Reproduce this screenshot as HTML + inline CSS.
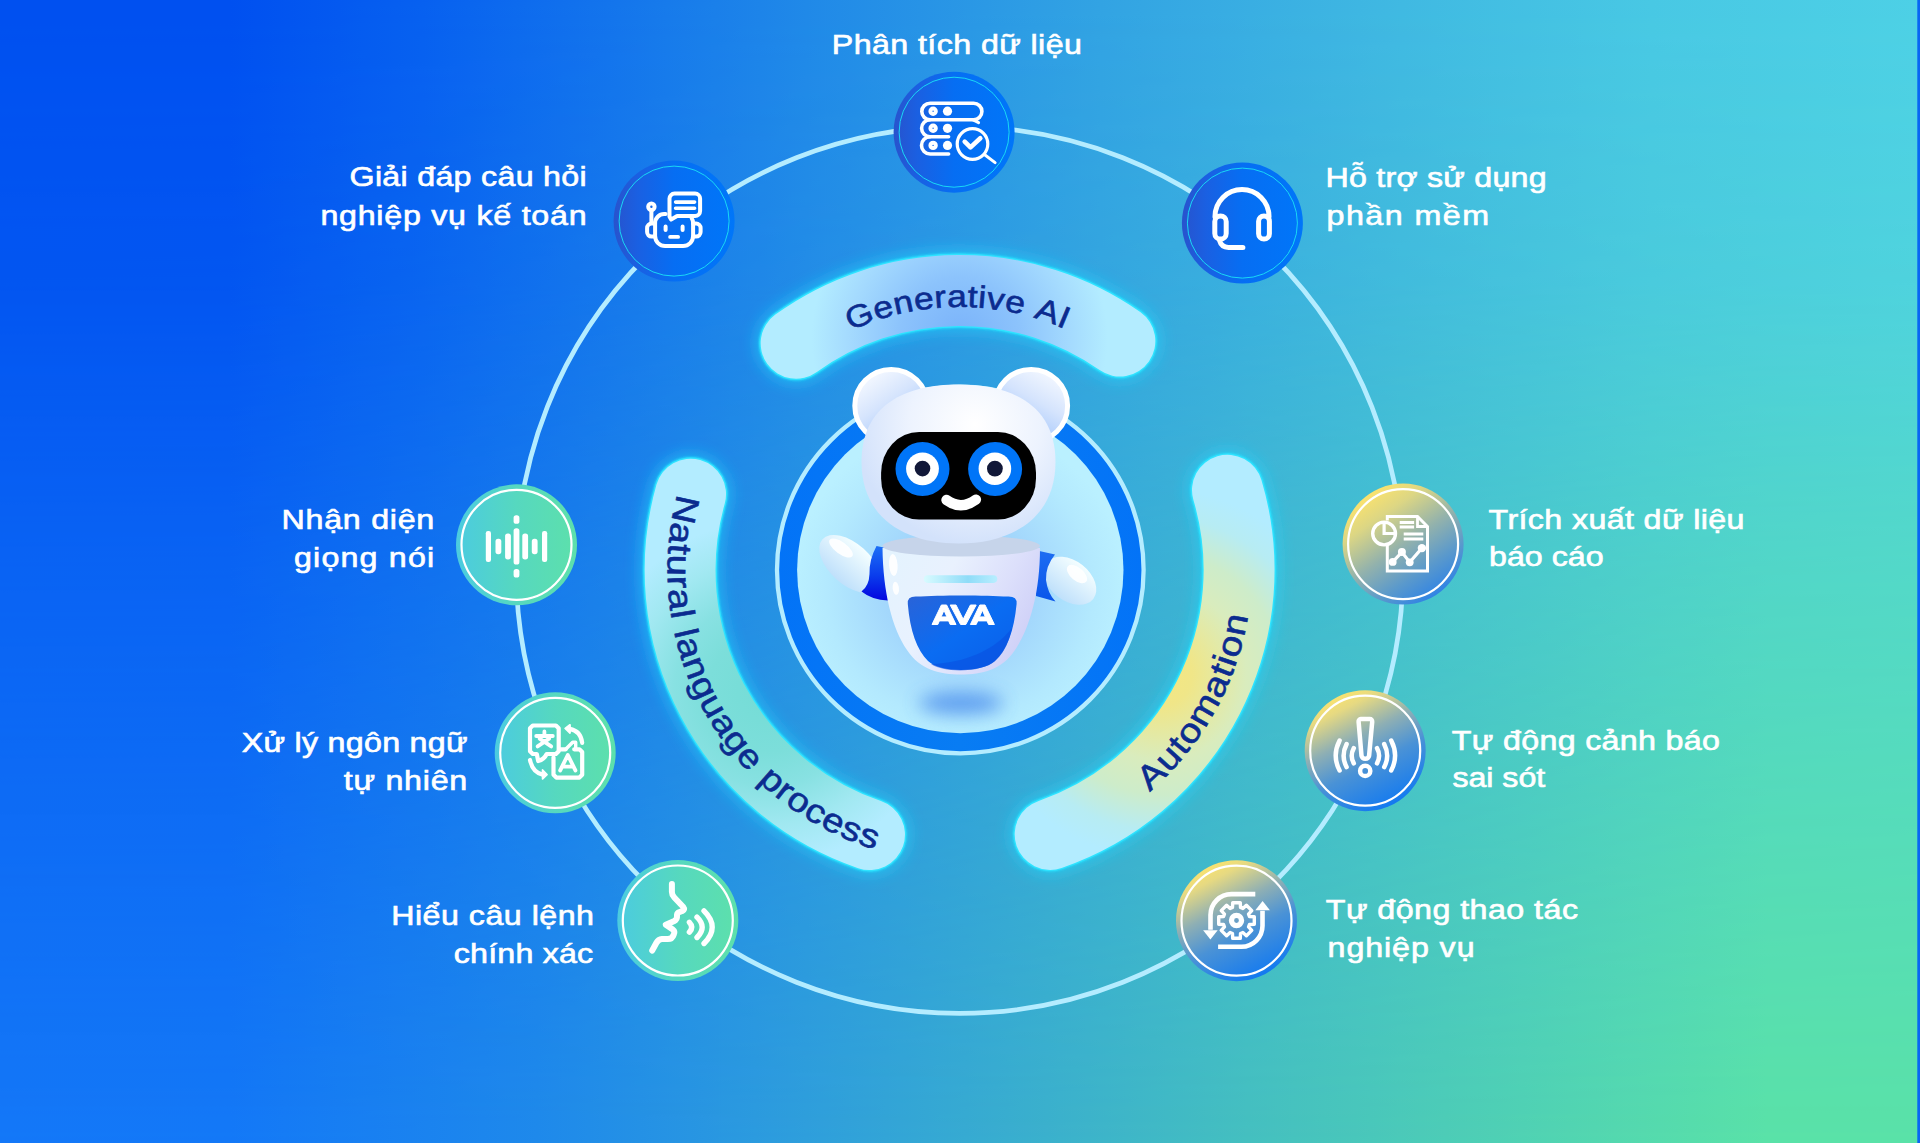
<!DOCTYPE html>
<html lang="vi">
<head>
<meta charset="utf-8">
<title>AVA</title>
<style>
html,body{margin:0;padding:0;background:#2b98e0;}
body{width:1920px;height:1143px;overflow:hidden;font-family:"Liberation Sans",sans-serif;}
svg{display:block;position:absolute;left:0;top:0;}
.lbl{font-family:"Liberation Sans",sans-serif;font-size:28px;fill:#fff;stroke:#fff;stroke-width:.65px;}
.arc{font-family:"Liberation Sans",sans-serif;fill:#0b2b8f;stroke:#0b2b8f;stroke-width:.6px;}
</style>
</head>
<body>
<svg width="1920" height="1143" viewBox="0 0 1920 1143">
<defs>
  <linearGradient id="bgTop" x1="0" y1="0" x2="1" y2="0">
    <stop offset="0" stop-color="#0050f0"/>
    <stop offset="0.12" stop-color="#0050f0"/>
    <stop offset="0.22" stop-color="#0760f0"/>
    <stop offset="0.42" stop-color="#2089e8"/>
    <stop offset="0.573" stop-color="#32a3e3"/>
    <stop offset="0.73" stop-color="#40b9e2"/>
    <stop offset="0.86" stop-color="#48c8e4"/>
    <stop offset="1" stop-color="#4dd0e6"/>
  </linearGradient>
  <linearGradient id="bgBot" x1="0" y1="0" x2="1" y2="0">
    <stop offset="0" stop-color="#1478f8"/>
    <stop offset="0.12" stop-color="#1479f7"/>
    <stop offset="0.28" stop-color="#1f8aeb"/>
    <stop offset="0.42" stop-color="#2f9fdc"/>
    <stop offset="0.65" stop-color="#45c0c0"/>
    <stop offset="0.92" stop-color="#5ae2a8"/>
    <stop offset="1" stop-color="#5ae2a8"/>
  </linearGradient>
  <linearGradient id="bgMaskG" x1="0" y1="0" x2="0" y2="1">
    <stop offset="0" stop-color="#fff"/>
    <stop offset="0.25" stop-color="#dbdbdb"/>
    <stop offset="0.5" stop-color="#858585"/>
    <stop offset="1" stop-color="#000"/>
  </linearGradient>
  <mask id="bgMask" maskUnits="userSpaceOnUse" x="0" y="0" width="1920" height="1143">
    <rect width="1920" height="1143" fill="url(#bgMaskG)"/>
  </mask>
  <linearGradient id="gBlue" x1="0" y1="0" x2="1" y2="0">
    <stop offset="0" stop-color="#2853cd"/>
    <stop offset="0.2" stop-color="#1a60e2"/>
    <stop offset="0.5" stop-color="#066ef3"/>
    <stop offset="1" stop-color="#0076f9"/>
  </linearGradient>
  <linearGradient id="gGreen" x1="0" y1="0" x2="1" y2="0">
    <stop offset="0" stop-color="#4bcbe0"/>
    <stop offset="0.5" stop-color="#56d8bf"/>
    <stop offset="1" stop-color="#5de0ab"/>
  </linearGradient>
  <linearGradient id="gYellow" x1="0.22" y1="0.04" x2="0.7" y2="0.99">
    <stop offset="0" stop-color="#ffe56a"/>
    <stop offset="0.14" stop-color="#e6d982"/>
    <stop offset="0.38" stop-color="#8eafb4"/>
    <stop offset="0.62" stop-color="#4a92d6"/>
    <stop offset="1" stop-color="#0f78f2"/>
  </linearGradient>
  <linearGradient id="gYellow7" x1="0.18" y1="0.08" x2="0.78" y2="0.96">
    <stop offset="0" stop-color="#ffe46a"/>
    <stop offset="0.22" stop-color="#dcd684"/>
    <stop offset="0.5" stop-color="#93b2ac"/>
    <stop offset="0.75" stop-color="#5a99cc"/>
    <stop offset="1" stop-color="#2a80e8"/>
  </linearGradient>
  <filter id="glow" filterUnits="userSpaceOnUse" x="500" y="150" width="920" height="850">
    <feGaussianBlur stdDeviation="7"/>
  </filter>
  <filter id="glow2" filterUnits="userSpaceOnUse" x="500" y="150" width="920" height="850">
    <feGaussianBlur stdDeviation="1.2"/>
  </filter>
  <radialGradient id="arcTop" gradientUnits="userSpaceOnUse" cx="959.6" cy="338" r="200">
    <stop offset="0" stop-color="#79b2fa"/>
    <stop offset="0.3" stop-color="#8cc3fc"/>
    <stop offset="0.55" stop-color="#a4dafe"/>
    <stop offset="0.74" stop-color="#b3ecff"/>
    <stop offset="1" stop-color="#b3ecff"/>
  </radialGradient>
  <radialGradient id="arcLeft" gradientUnits="userSpaceOnUse" cx="768" cy="692" r="200">
    <stop offset="0" stop-color="#74dcd6"/>
    <stop offset="0.3" stop-color="#7cdeda"/>
    <stop offset="0.47" stop-color="#88e1e2"/>
    <stop offset="0.67" stop-color="#a1e8f1"/>
    <stop offset="0.86" stop-color="#b3ecff"/>
    <stop offset="1" stop-color="#b3ecff"/>
  </radialGradient>
  <radialGradient id="arcRight" gradientUnits="userSpaceOnUse" cx="1160" cy="674" r="215">
    <stop offset="0" stop-color="#f5e780"/>
    <stop offset="0.15" stop-color="#f0e688"/>
    <stop offset="0.4" stop-color="#d9ecbd"/>
    <stop offset="0.56" stop-color="#cdecca"/>
    <stop offset="0.73" stop-color="#b7ecf3"/>
    <stop offset="0.86" stop-color="#b3ecff"/>
    <stop offset="1" stop-color="#b3ecff"/>
  </radialGradient>
</defs>
<rect width="1920" height="1143" fill="url(#bgBot)"/>
<rect width="1920" height="1143" fill="url(#bgTop)" mask="url(#bgMask)"/>
<rect x="1917.3" y="0" width="2.7" height="1143" fill="#0866f4"/>
<circle cx="959.6" cy="570.0" r="443.4" fill="none" stroke="#b4ecff" stroke-width="4.7"/>
<path d="M796.10,343.31 A279.5,279.5 0 0 1 1119.91,341.05" fill="none" stroke="#1fd8ff" stroke-opacity=".5" stroke-width="82.9" stroke-linecap="round" filter="url(#glow)"/>
<path d="M796.10,343.31 A279.5,279.5 0 0 1 1119.91,341.05" fill="none" stroke="#25e2ff" stroke-width="74.30000000000001" stroke-linecap="round" filter="url(#glow2)"/>
<path d="M796.10,343.31 A279.5,279.5 0 0 1 1119.91,341.05" fill="none" stroke="#2fe3ff" stroke-width="73.30000000000001" stroke-linecap="round"/>
<path d="M796.10,343.31 A279.5,279.5 0 0 1 1119.91,341.05" fill="none" stroke="url(#arcTop)" stroke-width="70.9" stroke-linecap="round"/>
<path d="M690.59,494.13 A279.5,279.5 0 0 0 869.53,834.59" fill="none" stroke="#1fd8ff" stroke-opacity=".5" stroke-width="82.9" stroke-linecap="round" filter="url(#glow)"/>
<path d="M690.59,494.13 A279.5,279.5 0 0 0 869.53,834.59" fill="none" stroke="#25e2ff" stroke-width="74.30000000000001" stroke-linecap="round" filter="url(#glow2)"/>
<path d="M690.59,494.13 A279.5,279.5 0 0 0 869.53,834.59" fill="none" stroke="#2fe3ff" stroke-width="73.30000000000001" stroke-linecap="round"/>
<path d="M690.59,494.13 A279.5,279.5 0 0 0 869.53,834.59" fill="none" stroke="url(#arcLeft)" stroke-width="70.9" stroke-linecap="round"/>
<path d="M1227.45,490.15 A279.5,279.5 0 0 1 1050.13,834.43" fill="none" stroke="#1fd8ff" stroke-opacity=".5" stroke-width="82.9" stroke-linecap="round" filter="url(#glow)"/>
<path d="M1227.45,490.15 A279.5,279.5 0 0 1 1050.13,834.43" fill="none" stroke="#25e2ff" stroke-width="74.30000000000001" stroke-linecap="round" filter="url(#glow2)"/>
<path d="M1227.45,490.15 A279.5,279.5 0 0 1 1050.13,834.43" fill="none" stroke="#2fe3ff" stroke-width="73.30000000000001" stroke-linecap="round"/>
<path d="M1227.45,490.15 A279.5,279.5 0 0 1 1050.13,834.43" fill="none" stroke="url(#arcRight)" stroke-width="70.9" stroke-linecap="round"/>
<text class="arc" font-size="31" transform="translate(862.98,325.39) rotate(-21.55) scale(1.14,1)" x="-12.06" y="0">G</text>
<text class="arc" font-size="31" transform="translate(885.66,317.61) rotate(-16.33) scale(1.14,1)" x="-8.62" y="0">e</text>
<text class="arc" font-size="31" transform="translate(905.11,312.71) rotate(-11.96) scale(1.14,1)" x="-8.62" y="0">n</text>
<text class="arc" font-size="31" transform="translate(924.88,309.30) rotate(-7.59) scale(1.14,1)" x="-8.62" y="0">e</text>
<text class="arc" font-size="31" transform="translate(940.92,307.66) rotate(-4.07) scale(1.14,1)" x="-5.16" y="0">r</text>
<text class="arc" font-size="31" transform="translate(957.02,307.01) rotate(-0.56) scale(1.14,1)" x="-8.62" y="0">a</text>
<text class="arc" font-size="31" transform="translate(972.17,307.30) rotate(2.74) scale(1.14,1)" x="-4.31" y="0">t</text>
<text class="arc" font-size="31" transform="translate(981.39,307.90) rotate(4.75) scale(1.14,1)" x="-3.44" y="0">i</text>
<text class="arc" font-size="31" transform="translate(994.49,309.32) rotate(7.62) scale(1.14,1)" x="-7.75" y="0">v</text>
<text class="arc" font-size="31" transform="translate(1013.28,312.54) rotate(11.78) scale(1.14,1)" x="-8.62" y="0">e</text>
<text class="arc" font-size="31" transform="translate(1044.37,321.04) rotate(18.80) scale(1.14,1)" x="-10.34" y="0">A</text>
<text class="arc" font-size="31" transform="translate(1060.38,327.07) rotate(22.53) scale(1.14,1)" x="-4.31" y="0">I</text>
<text class="arc" font-size="33.5" transform="translate(674.41,507.33) rotate(102.39) scale(1.14,1)" x="-12.10" y="0">N</text>
<text class="arc" font-size="33.5" transform="translate(670.08,532.00) rotate(97.48) scale(1.14,1)" x="-9.32" y="0">a</text>
<text class="arc" font-size="33.5" transform="translate(668.39,548.48) rotate(94.23) scale(1.14,1)" x="-4.65" y="0">t</text>
<text class="arc" font-size="33.5" transform="translate(667.64,565.02) rotate(90.98) scale(1.14,1)" x="-9.32" y="0">u</text>
<text class="arc" font-size="33.5" transform="translate(667.87,582.64) rotate(87.52) scale(1.14,1)" x="-5.58" y="0">r</text>
<text class="arc" font-size="33.5" transform="translate(669.17,600.21) rotate(84.06) scale(1.14,1)" x="-9.32" y="0">a</text>
<text class="arc" font-size="33.5" transform="translate(671.18,615.59) rotate(81.02) scale(1.14,1)" x="-3.72" y="0">l</text>
<text class="arc" font-size="33.5" transform="translate(675.06,635.59) rotate(77.02) scale(1.14,1)" x="-3.72" y="0">l</text>
<text class="arc" font-size="33.5" transform="translate(678.94,650.60) rotate(73.98) scale(1.14,1)" x="-9.32" y="0">a</text>
<text class="arc" font-size="33.5" transform="translate(685.77,671.39) rotate(69.68) scale(1.14,1)" x="-9.32" y="0">n</text>
<text class="arc" font-size="33.5" transform="translate(694.13,691.60) rotate(65.39) scale(1.14,1)" x="-9.32" y="0">g</text>
<text class="arc" font-size="33.5" transform="translate(703.98,711.14) rotate(61.10) scale(1.14,1)" x="-9.32" y="0">u</text>
<text class="arc" font-size="33.5" transform="translate(715.26,729.88) rotate(56.80) scale(1.14,1)" x="-9.32" y="0">a</text>
<text class="arc" font-size="33.5" transform="translate(727.92,747.73) rotate(52.51) scale(1.14,1)" x="-9.32" y="0">g</text>
<text class="arc" font-size="33.5" transform="translate(741.87,764.57) rotate(48.21) scale(1.14,1)" x="-9.32" y="0">e</text>
<text class="arc" font-size="33.5" transform="translate(765.31,787.98) rotate(41.71) scale(1.14,1)" x="-9.32" y="0">p</text>
<text class="arc" font-size="33.5" transform="translate(778.81,799.30) rotate(38.25) scale(1.14,1)" x="-5.58" y="0">r</text>
<text class="arc" font-size="33.5" transform="translate(792.97,809.79) rotate(34.80) scale(1.14,1)" x="-9.32" y="0">o</text>
<text class="arc" font-size="33.5" transform="translate(810.46,821.04) rotate(30.71) scale(1.14,1)" x="-8.38" y="0">c</text>
<text class="arc" font-size="33.5" transform="translate(828.72,831.02) rotate(26.63) scale(1.14,1)" x="-9.32" y="0">e</text>
<text class="arc" font-size="33.5" transform="translate(847.64,839.68) rotate(22.55) scale(1.14,1)" x="-8.38" y="0">s</text>
<text class="arc" font-size="33.5" transform="translate(866.11,846.63) rotate(18.67) scale(1.14,1)" x="-8.38" y="0">s</text>
<text class="arc" font-size="34" transform="translate(1159.25,783.08) rotate(316.86) scale(1.14,1)" x="-11.34" y="0">A</text>
<text class="arc" font-size="34" transform="translate(1176.57,765.42) rotate(312.01) scale(1.14,1)" x="-9.45" y="0">u</text>
<text class="arc" font-size="34" transform="translate(1187.69,752.31) rotate(308.63) scale(1.14,1)" x="-4.72" y="0">t</text>
<text class="arc" font-size="34" transform="translate(1198.03,738.57) rotate(305.26) scale(1.14,1)" x="-9.45" y="0">o</text>
<text class="arc" font-size="34" transform="translate(1213.05,715.01) rotate(299.77) scale(1.14,1)" x="-14.16" y="0">m</text>
<text class="arc" font-size="34" transform="translate(1225.75,690.11) rotate(294.29) scale(1.14,1)" x="-9.45" y="0">a</text>
<text class="arc" font-size="34" transform="translate(1232.36,674.24) rotate(290.91) scale(1.14,1)" x="-4.72" y="0">t</text>
<text class="arc" font-size="34" transform="translate(1236.00,664.15) rotate(288.81) scale(1.14,1)" x="-3.78" y="0">i</text>
<text class="arc" font-size="34" transform="translate(1240.78,648.76) rotate(285.65) scale(1.14,1)" x="-9.45" y="0">o</text>
<text class="arc" font-size="34" transform="translate(1246.02,626.79) rotate(281.21) scale(1.14,1)" x="-9.45" y="0">n</text>
<!-- centre disc -->
<defs>
  <linearGradient id="ringG" x1="0" y1="0" x2="1" y2="0"><stop offset="0" stop-color="#0373f7"/><stop offset="0.5" stop-color="#087cf3"/><stop offset="1" stop-color="#0373f7"/></linearGradient>
  <radialGradient id="discFill" gradientUnits="userSpaceOnUse" cx="960" cy="588" r="166">
    <stop offset="0" stop-color="#97cbfa"/>
    <stop offset="0.45" stop-color="#a3d7fc"/>
    <stop offset="0.8" stop-color="#b3e9fe"/>
    <stop offset="1" stop-color="#baf0ff"/>
  </radialGradient>
  <radialGradient id="headG" gradientUnits="userSpaceOnUse" cx="975" cy="425" r="120">
    <stop offset="0" stop-color="#ffffff"/>
    <stop offset="0.55" stop-color="#edf3fe"/>
    <stop offset="1" stop-color="#d3e2fb"/>
  </radialGradient>
  <linearGradient id="earG" x1="0.25" y1="0.05" x2="0.8" y2="0.85">
    <stop offset="0" stop-color="#f4f8ff"/>
    <stop offset="0.45" stop-color="#d5e4fd"/>
    <stop offset="1" stop-color="#9cc2fb"/>
  </linearGradient>
  <linearGradient id="earG2" x1="0.8" y1="0.05" x2="0.3" y2="0.9">
    <stop offset="0" stop-color="#f4f8ff"/>
    <stop offset="0.45" stop-color="#d5e4fd"/>
    <stop offset="1" stop-color="#9cc2fb"/>
  </linearGradient>
  <linearGradient id="bodyG" x1="0" y1="0.1" x2="1" y2="0.5">
    <stop offset="0" stop-color="#e3f3fe"/>
    <stop offset="0.4" stop-color="#e9f1fe"/>
    <stop offset="0.75" stop-color="#dcdffb"/>
    <stop offset="1" stop-color="#cfd0f7"/>
  </linearGradient>
  <linearGradient id="bibG" x1="0" y1="0" x2="1" y2="1">
    <stop offset="0" stop-color="#2a63d8"/>
    <stop offset="0.5" stop-color="#0a6cf2"/>
    <stop offset="1" stop-color="#0a5ee8"/>
  </linearGradient>
  <linearGradient id="armG" x1="0" y1="0" x2="0" y2="1">
    <stop offset="0" stop-color="#f4feff"/>
    <stop offset="1" stop-color="#bfe0fb"/>
  </linearGradient>
  <linearGradient id="sleeveL" x1="0" y1="0" x2="0" y2="1"><stop offset="0" stop-color="#1c70f6"/><stop offset="0.55" stop-color="#0a3cec"/><stop offset="1" stop-color="#0404df"/></linearGradient>
  <linearGradient id="sleeveR" x1="0" y1="0" x2="0" y2="1"><stop offset="0" stop-color="#1d6df2"/><stop offset="1" stop-color="#0a55ea"/></linearGradient>
  <linearGradient id="lightG" x1="0" y1="0" x2="1" y2="0">
    <stop offset="0" stop-color="#d8fbff"/>
    <stop offset="0.6" stop-color="#8fdcf8"/>
    <stop offset="1" stop-color="#b8eeff"/>
  </linearGradient>
  <filter id="shBlur" filterUnits="userSpaceOnUse" x="840" y="650" width="240" height="110"><feGaussianBlur stdDeviation="9"/></filter>
  <filter id="discGlow" filterUnits="userSpaceOnUse" x="720" y="330" width="480" height="480"><feGaussianBlur stdDeviation="6"/></filter>
</defs>
<circle cx="960.3" cy="570" r="183.3" fill="url(#ringG)" stroke="#b4ecff" stroke-width="4.3"/>
<circle cx="960.3" cy="570" r="163.2" fill="url(#discFill)"/>
<!-- shadow -->
<ellipse cx="961" cy="703" rx="42" ry="11" fill="#4a8cec" opacity=".8" filter="url(#shBlur)"/>
<!-- arms -->
<g>
  <ellipse cx="850" cy="564" rx="37" ry="20.5" transform="rotate(42 850 564)" fill="url(#armG)"/>
  <ellipse cx="841" cy="548" rx="14" ry="6" transform="rotate(36 841 548)" fill="#fff" opacity=".9"/>
  <path d="M876.5,546 Q869,560 869.5,574 Q869,586 861.5,591.5 Q872,600 888,600.5 L886,548 Z" fill="url(#sleeveL)"/>
  <ellipse cx="1070" cy="580.8" rx="29.5" ry="20" transform="rotate(38 1070 580.8)" fill="url(#armG)"/>
  <ellipse cx="1077" cy="574" rx="12" ry="6.5" transform="rotate(40 1077 574)" fill="#fff" opacity=".9"/>
  <path d="M1037,550.5 L1055,554.5 Q1045.5,566 1046,580 Q1047.5,593 1055.5,601.5 L1036,596 Z" fill="url(#sleeveR)"/>
</g>
<!-- body -->
<path d="M882.5,548 C883,592 892,628 907,650 C920,670 940,674.5 961,674.5 C982,674.5 1002,670 1015,650 C1030,628 1040,592 1040,548 Z" fill="url(#bodyG)"/>
<ellipse cx="961.2" cy="546" rx="78.8" ry="10.5" fill="#c6d4ea"/>
<ellipse cx="893.3" cy="565" rx="4.3" ry="11" transform="rotate(-4 893.3 565)" fill="#fff" opacity=".92"/>
<ellipse cx="895.8" cy="588.3" rx="3.1" ry="6.6" transform="rotate(-6 895.8 588.3)" fill="#fff" opacity=".92"/>
<rect x="923.8" y="575.3" width="73.5" height="7.6" rx="3.8" fill="url(#lightG)"/>
<!-- bib -->
<path d="M916,596.6 Q907,596.4 907.8,604 C910,631 917,650 928,661 C940,673 982,673 995,661 C1007,650 1014,631 1016.6,604 Q1017.4,596.4 1008,596.6 C985,595 940,595 916,596.6 Z" fill="url(#bibG)"/>
<path d="M931,664 C965,663 995,650 1012,628 C1008,646 1002,655 995,661 C982,673 943,673 931,664 Z" fill="#0a4fe0" opacity=".55"/>
<path fill="#fff" stroke="#fff" stroke-width="1" stroke-linejoin="round" fill-rule="evenodd" d="M932.00,624.50 L941.40,605.00 L946.60,605.00 L956.00,624.50 L950.20,624.50 L948.64,620.90 L939.36,620.90 L937.80,624.50 Z M944.00,610.20 L941.10,616.90 L946.90,616.90 Z M950.20,605.00 L956.00,605.00 L963.20,619.30 L970.40,605.00 L976.20,605.00 L965.80,624.50 L960.60,624.50 Z M970.40,624.50 L979.80,605.00 L985.00,605.00 L994.40,624.50 L988.60,624.50 L987.04,620.90 L977.76,620.90 L976.20,624.50 Z M982.40,610.20 L979.50,616.90 L985.30,616.90 Z"/>
<!-- ears -->
<circle cx="891.2" cy="405.8" r="36.4" fill="url(#earG)" stroke="#fff" stroke-width="5"/>
<circle cx="1031.2" cy="405.8" r="36.4" fill="url(#earG2)" stroke="#fff" stroke-width="5"/>
<!-- head -->
<path d="M861.5,462 C861.5,405 905,384.5 958.5,384.5 C1012,384.5 1055.5,405 1055.5,462 C1055.5,518 1012,543.5 958.5,543.5 C905,543.5 861.5,518 861.5,462 Z" fill="url(#headG)"/>
<!-- visor -->
<rect x="881.1" y="432" width="154.9" height="87.6" rx="38" ry="41" fill="#000"/>
<!-- eyes -->
<circle cx="922.5" cy="469" r="27" fill="#0075f8"/>
<circle cx="922.5" cy="468.8" r="16.4" fill="#fff"/>
<circle cx="922.5" cy="468.6" r="7.8" fill="#121838"/>
<circle cx="995.1" cy="469" r="27" fill="#0075f8"/>
<circle cx="994.9" cy="468.8" r="16.3" fill="#fff"/>
<circle cx="994.9" cy="468.6" r="7.9" fill="#121838"/>
<!-- smile -->
<path d="M946.5,500 Q961,510.6 975.9,499.6" fill="none" stroke="#fff" stroke-width="10.4" stroke-linecap="round"/>
<g transform="translate(954.1,132.2)">
<circle r="60.5" fill="url(#gBlue)"/>
<circle r="55" fill="none" stroke="#19d8f5" stroke-width="1"/>
<g fill="none" stroke="#fff" stroke-width="3.6" stroke-linecap="round" stroke-linejoin="round">
  <path d="M-24,-29 H19.5 A8.3,8.3 0 0 1 19.5,-12.4 H-24 A8.3,8.3 0 0 1 -24,-29 Z"/>
  <path d="M19,-12.4 L24.5,-9.6" stroke-width="3"/>
  <path d="M-5.5,4.6 H-24 A8.5,8.5 0 0 1 -24,-12.4"/>
  <path d="M-5.5,21.8 H-24 A8.6,8.6 0 0 1 -24,4.6"/>
  <circle cx="18.4" cy="11.8" r="15.3" stroke-width="3.2"/>
  <path d="M30.6,22.6 L41,30.4" stroke-width="3"/>
  <path d="M10.6,9.4 L16.4,15.2 L26.2,6" stroke-width="4.6"/>
</g>
<g fill="#fff">
  <circle cx="-6.6" cy="-21" r="4.6"/><circle cx="-6.6" cy="-3.9" r="4.6"/><circle cx="-6.6" cy="13.2" r="4.6"/>
</g>
<g fill="none" stroke="#fff" stroke-width="4">
  <circle cx="-21" cy="-21" r="2.7"/><circle cx="-21" cy="-3.9" r="2.7"/><circle cx="-21" cy="13.2" r="2.7"/>
</g>
</g>
<g transform="translate(674.1,221.1)">
<circle r="60.5" fill="url(#gBlue)"/>
<circle r="55" fill="none" stroke="#19d8f5" stroke-width="1"/>
<g fill="none" stroke="#fff" stroke-width="4" stroke-linecap="round" stroke-linejoin="round">
  <!-- head -->
  <path d="M-8.5,-7 H-10 A9,9 0 0 0 -19,2 V15 A10,10 0 0 0 -9,25 H9 A10,10 0 0 0 19,15 V2 Q19,-1 17.5,-3"/>
  <!-- ears -->
  <path d="M-19,2.5 H-22.5 A4.5,4.5 0 0 0 -27,7 V11 A4.5,4.5 0 0 0 -22.5,15.5 H-19"/>
  <path d="M19,2.5 H22 A4.5,4.5 0 0 1 26.5,7 V11 A4.5,4.5 0 0 1 22,15.5 H19"/>
  <!-- antenna -->
  <path d="M-22.7,-10 V2" stroke-width="4"/>
  <circle cx="-22.7" cy="-14.4" r="3.2" stroke-width="4"/>
  <!-- bubble -->
  <path d="M-4.6,-4.5 V-22.5 A5,5 0 0 1 0.4,-27.5 H21 A5,5 0 0 1 26,-22.5 V-10 A5,5 0 0 1 21,-5 H3 L-3,-1.5 Z"/>
  <path d="M1.5,-19 H20.5 M1.5,-12.8 H20.5" stroke-width="3.6"/>
  <!-- face -->
  <path d="M-8.5,5.5 V9 M8.5,5.5 V9" stroke-width="4"/>
  <path d="M-4,15.8 H4" stroke-width="3.8"/>
</g>
</g>
<g transform="translate(1242.4,223.1)">
<circle r="60.5" fill="url(#gBlue)"/>
<circle r="55" fill="none" stroke="#19d8f5" stroke-width="1"/>
<g fill="none" stroke="#fff" stroke-width="5" stroke-linecap="round" stroke-linejoin="round">
  <path d="M-27.4,-6 V-6.5 A27,27 0 0 1 26.6,-6.5 V-6"/>
  <rect x="-27.6" y="-7.2" width="11.4" height="23.2" rx="5.7"/>
  <rect x="16.2" y="-7.2" width="10.8" height="23.2" rx="5.4"/>
  <path d="M-23,17 Q-21,24.3 -14,24.3 H0.5"/>
</g>
</g>
<g transform="translate(516.5,544.8)">
<circle r="60.5" fill="url(#gGreen)"/>
<circle r="55" fill="none" stroke="#fff" stroke-width="2.2"/>
<g fill="#fff">
  <rect x="-30.7" y="-13.8" width="5.2" height="31" rx="2.2"/>
  <rect x="-21" y="-6" width="5.8" height="15.4" rx="2.6"/>
  <rect x="-11.4" y="-11.4" width="5.8" height="26" rx="2.6"/>
  <rect x="-2.9" y="-16.6" width="5.8" height="36.4" rx="2.6"/>
  <rect x="-2.9" y="-29.6" width="5.8" height="8.6" rx="2.6"/>
  <rect x="-2.9" y="24.2" width="5.8" height="8.6" rx="2.6"/>
  <rect x="5.8" y="-11.4" width="5.8" height="26" rx="2.6"/>
  <rect x="15.3" y="-6" width="5.8" height="15.4" rx="2.6"/>
  <rect x="25.5" y="-13.8" width="5.2" height="31" rx="2.2"/>
</g>
</g>
<g transform="translate(555.2,752.8)">
<circle r="60.5" fill="url(#gGreen)"/>
<circle r="55" fill="none" stroke="#fff" stroke-width="2.2"/>
<g fill="none" stroke="#fff" stroke-width="4.2" stroke-linecap="round" stroke-linejoin="round">
  <!-- top-left bubble -->
  <path d="M-8.5,1.2 Q-11,6.5 -17,8.2 L-18.4,1.2 H-22.4 L-25.2,-1.6 V-24.5 L-22.4,-27.3 H0.7 L3.5,-24.5 V-1.6 L0.7,1.2 Z"/>
  <!-- glyph -->
  <path d="M-19,-16.8 H-2.4 M-10.8,-21.4 V-17 M-15.6,-14.2 L-4,-6.4 M-6,-14.2 L-17.6,-6.4" stroke-width="3.8"/>
  <!-- doc bottom-right -->
  <path d="M4,-3.5 H10.5 M19,-3.5 H24.2 L27,-0.7 V22 L24.2,24.8 H1.1 L-1.7,22 V4.5"/>
  <path d="M5,17.6 L12.6,2.2 L20.2,17.6 M8.4,13.8 H16.8" stroke-width="3.9"/>
  <!-- arrows -->
  <path d="M14.5,-23.9 Q25.6,-21.8 27,-10" stroke-width="4.2"/>
  <path d="M-25.2,7.2 Q-22.6,19.6 -12.6,21.8" stroke-width="4.2"/>
  <path d="M11,-4 L17.5,-10.6 H20.5 V-4.5" stroke-width="3.4"/>
</g>
<g fill="#fff" stroke="#fff" stroke-width="1.8" stroke-linejoin="round">
  <path d="M14.8,-28 L10,-24.4 L14.8,-19.8 Z"/>
  <path d="M-12.6,17.2 L-8.2,21.8 L-12.6,26 Z"/>
</g>
</g>
<g transform="translate(677.8,920.5)">
<circle r="60.5" fill="url(#gGreen)"/>
<circle r="55" fill="none" stroke="#fff" stroke-width="2.2"/>
<g fill="none" stroke="#fff" stroke-width="6" stroke-linecap="round" stroke-linejoin="round">
  <path d="M-5.9,-36.5 V-28.5 Q-5.9,-25.5 -3.5,-23 L5.5,-13.5 Q7.5,-11 4.5,-9.5 L0.5,-8 Q-1,-7 -0.8,-4.5 Q-0.5,-1 -3.5,0.5 L-12,4.3 L-5,9 Q-2.5,11 -4,14 Q-5.5,18.6 -10,18.6 H-16 Q-19.5,18.8 -21.5,22.5 L-25.6,30"/>
</g>
<g fill="none" stroke="#fff" stroke-width="5.4" stroke-linecap="round">
  <path d="M11.6,1.8 Q16.2,6.6 11.6,11.6"/>
  <path d="M19.2,-3.4 Q29.6,6.6 19.2,17"/>
  <path d="M26.2,-9.6 Q42.6,6.6 26.2,23"/>
</g>
</g>
<g transform="translate(1403.1,544.1)">
<circle r="60.5" fill="url(#gYellow7)"/>
<circle r="55" fill="none" stroke="#fff" stroke-width="2.2"/>
<g fill="none" stroke="#fff" stroke-width="3" stroke-linecap="butt" stroke-linejoin="miter">
  <path d="M-15.8,1 V27 H24.4 V-17.6 L14.4,-27.7 H-15.8 V-23.5"/>
  <path d="M14.4,-27.7 V-17.6 H24.4" stroke-width="2.8"/>
  <circle cx="-19" cy="-10.6" r="11.4" stroke-width="3.4"/>
  <path d="M-19,-22 V-10.6 H-7.5" stroke-width="3.2"/>
  <path d="M-3.4,-21.6 H11 M-3.4,-17.2 H11 M0.6,-10 H20.2 M0.6,-5.2 H20.2" stroke-width="3"/>
  <path d="M-10.4,17.8 L-1.2,8 L6.6,18.2 L18.8,4" stroke-width="3.2"/>
</g>
<g fill="#fff">
  <circle cx="-10.4" cy="17.8" r="3.9"/><circle cx="6.6" cy="18.2" r="3.9"/><circle cx="18.8" cy="4" r="4.2"/>
</g>
<circle cx="-1.2" cy="8" r="2.6" fill="none" stroke="#fff" stroke-width="2.8"/>
</g>
<g transform="translate(1365.2,750.7)">
<circle r="60.5" fill="url(#gYellow)"/>
<circle r="55" fill="none" stroke="#fff" stroke-width="2.2"/>
<g fill="none" stroke="#fff" stroke-width="4.5" stroke-linecap="round" stroke-linejoin="round">
  <path d="M-4.4,-31.6 H4.6 A2.4,2.4 0 0 1 7,-29 L3.9,5 A3.9,3.9 0 0 1 -3.7,5 L-6.6,-29 A2.4,2.4 0 0 1 -4.4,-31.6 Z"/>
  <circle cx="0" cy="20.2" r="5.1"/>
</g>
<g fill="none" stroke="#fff" stroke-width="4.5" stroke-linecap="round">
  <path d="M-11.4,-2.6 Q-15.6,5 -11.4,12.6"/>
  <path d="M-18.6,-6.6 Q-24.6,5 -18.6,16.4"/>
  <path d="M-25.6,-10.2 Q-33.4,5 -25.6,19.8"/>
  <path d="M11.8,-2.6 Q16,5 11.8,12.6"/>
  <path d="M19,-6.6 Q25,5 19,16.4"/>
  <path d="M26,-10.2 Q33.8,5 26,19.8"/>
</g>
</g>
<g transform="translate(1236.5,920.7)">
<circle r="60.5" fill="url(#gYellow)"/>
<circle r="55" fill="none" stroke="#fff" stroke-width="2.2"/>
<g fill="none" stroke="#fff" stroke-linejoin="round" stroke-linecap="butt">
  <path d="M-4.02,-13.19 L-3.79,-18.00 L3.79,-18.00 L4.02,-13.19 L6.35,-12.23 L9.90,-15.47 L15.27,-10.10 L12.03,-6.55 L12.99,-4.22 L17.80,-3.99 L17.80,3.59 L12.99,3.82 L12.03,6.15 L15.27,9.70 L9.90,15.07 L6.35,11.83 L4.02,12.79 L3.79,17.60 L-3.79,17.60 L-4.02,12.79 L-6.35,11.83 L-9.90,15.07 L-15.27,9.70 L-12.03,6.15 L-12.99,3.82 L-17.80,3.59 L-17.80,-3.99 L-12.99,-4.22 L-12.03,-6.55 L-15.27,-10.10 L-9.90,-15.47 L-6.35,-12.23 Z" stroke-width="3.4"/>
  <circle cx="0" cy="-0.2" r="5.05" stroke-width="5.3"/>
  <path d="M18.8,-26.6 H-5 A21,21 0 0 0 -26,-5.6 V9" stroke-width="4.6"/>
  <path d="M-18.4,26 H5 A21,21 0 0 0 26,5 V-10" stroke-width="4.6"/>
</g>
<g fill="#fff">
  <path d="M-33.4,9.6 H-18.8 L-26.1,18.8 Z"/>
  <path d="M18.8,-10.4 H33.4 L26.1,-19.8 Z"/>
</g>
</g>
<text class="lbl" transform="translate(831.80,53.80) scale(1.15,1)" textLength="217.48" lengthAdjust="spacing">Phân tích dữ liệu</text>
<text class="lbl" transform="translate(349.60,186.20) scale(1.15,1)" textLength="206.09" lengthAdjust="spacing">Giải đáp câu hỏi</text>
<text class="lbl" transform="translate(320.40,224.50) scale(1.15,1)" textLength="231.48" lengthAdjust="spacing">nghiệp vụ kế toán</text>
<text class="lbl" transform="translate(1325.60,187.00) scale(1.15,1)" textLength="192.17" lengthAdjust="spacing">Hỗ trợ sử dụng</text>
<text class="lbl" transform="translate(1326.60,225.30) scale(1.15,1)" textLength="141.22" lengthAdjust="spacing">phần mềm</text>
<text class="lbl" transform="translate(281.55,529.25) scale(1.15,1)" textLength="132.78" lengthAdjust="spacing">Nhận diện</text>
<text class="lbl" transform="translate(294.00,567.00) scale(1.15,1)" textLength="121.91" lengthAdjust="spacing">giọng nói</text>
<text class="lbl" transform="translate(241.80,752.20) scale(1.15,1)" textLength="196.26" lengthAdjust="spacing">Xử lý ngôn ngữ</text>
<text class="lbl" transform="translate(343.80,790.10) scale(1.15,1)" textLength="107.30" lengthAdjust="spacing">tự nhiên</text>
<text class="lbl" transform="translate(391.20,924.75) scale(1.15,1)" textLength="176.35" lengthAdjust="spacing">Hiểu câu lệnh</text>
<text class="lbl" transform="translate(453.80,963.25) scale(1.15,1)" textLength="121.22" lengthAdjust="spacing">chính xác</text>
<text class="lbl" transform="translate(1488.55,528.50) scale(1.15,1)" textLength="222.52" lengthAdjust="spacing">Trích xuất dữ liệu</text>
<text class="lbl" transform="translate(1489.00,566.40) scale(1.15,1)" textLength="99.65" lengthAdjust="spacing">báo cáo</text>
<text class="lbl" transform="translate(1451.80,749.80) scale(1.15,1)" textLength="233.22" lengthAdjust="spacing">Tự động cảnh báo</text>
<text class="lbl" transform="translate(1452.40,787.20) scale(1.15,1)" textLength="80.70" lengthAdjust="spacing">sai sót</text>
<text class="lbl" transform="translate(1325.80,918.90) scale(1.15,1)" textLength="219.30" lengthAdjust="spacing">Tự động thao tác</text>
<text class="lbl" transform="translate(1327.55,956.80) scale(1.15,1)" textLength="127.83" lengthAdjust="spacing">nghiệp vụ</text>
</svg>
</body>
</html>
